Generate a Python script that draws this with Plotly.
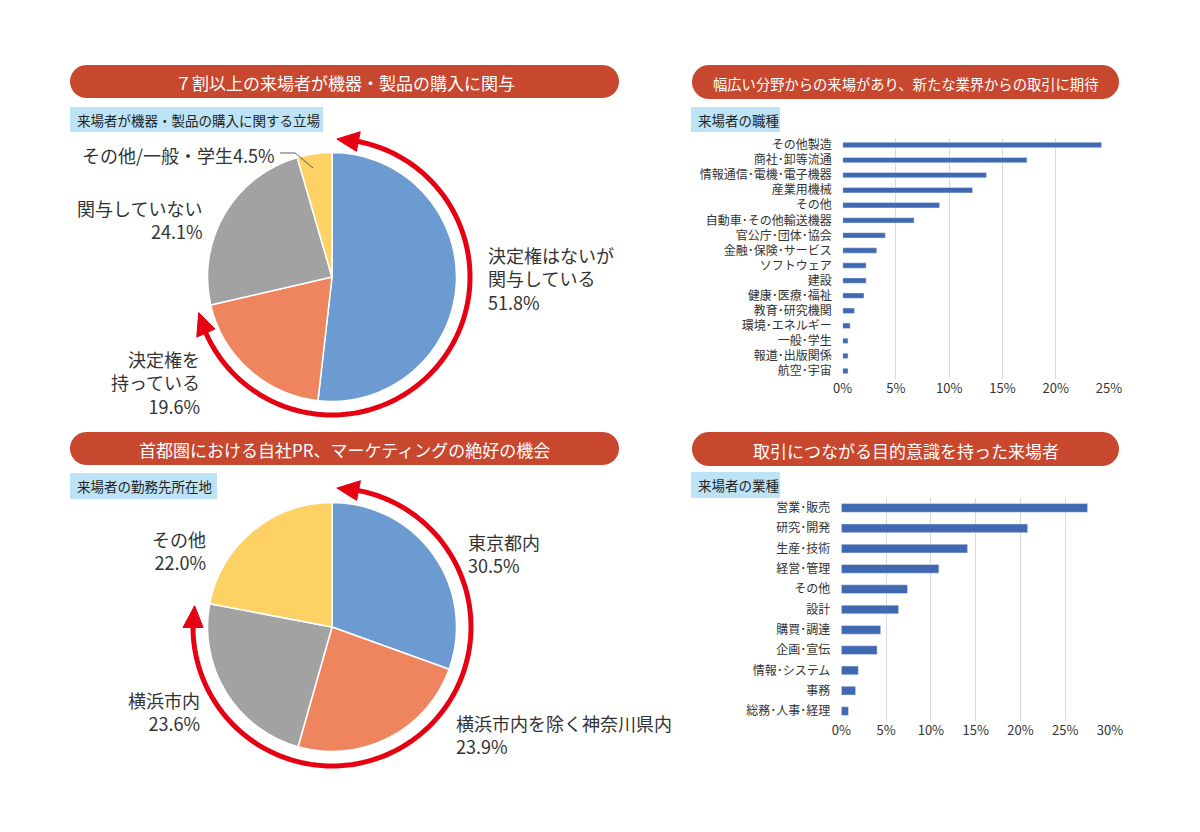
import math
import plotly.graph_objects as go

W, H = 1200, 832
FONT = "Noto Sans CJK JP"
TXT = "#333333"

# ---------------- data ----------------
pie1_labels = ["決定権はないが関与している", "決定権を持っている", "関与していない", "その他/一般・学生"]
pie1_values = [51.8, 19.6, 24.1, 4.5]
pie2_labels = ["東京都内", "横浜市内を除く神奈川県内", "横浜市内", "その他"]
pie2_values = [30.5, 23.9, 23.6, 22.0]
pie_colors = ["#6B9BD1", "#EE855E", "#A2A2A2", "#FDD163"]

job_labels = ["その他製造", "商社･卸等流通", "情報通信･電機･電子機器", "産業用機械", "その他",
              "自動車･その他輸送機器", "官公庁･団体･協会", "金融･保険･サービス", "ソフトウェア",
              "建設", "健康･医療･福祉", "教育･研究機関", "環境･エネルギー", "一般･学生",
              "報道･出版関係", "航空･宇宙"]
job_values = [24.3, 17.3, 13.5, 12.2, 9.1, 6.7, 4.0, 3.2, 2.2, 2.2, 2.0, 1.1, 0.7, 0.5, 0.5, 0.5]

ind_labels = ["営業･販売", "研究･開発", "生産･技術", "経営･管理", "その他", "設計",
              "購買･調達", "企画･宣伝", "情報･システム", "事務", "総務･人事･経理"]
ind_values = [27.5, 20.8, 14.1, 10.9, 7.4, 6.4, 4.4, 4.0, 1.9, 1.6, 0.8]

titles = ["７割以上の来場者が機器・製品の購入に関与",
          "幅広い分野からの来場があり、新たな業界からの取引に期待",
          "首都圏における自社PR、マーケティングの絶好の機会",
          "取引につながる目的意識を持った来場者"]
subtitles = ["来場者が機器・製品の購入に関する立場", "来場者の職種", "来場者の勤務先所在地", "来場者の業種"]


# ---------------- helpers (pixel -> paper) ----------------
def X(px):
    return px / W


def Y(py):
    return 1 - py / H


def path_from(points, close=True):
    s = "M " + " L ".join(f"{X(x):.5f},{Y(y):.5f}" for x, y in points)
    return s + (" Z" if close else "")


def pill_points(x0, y0, x1, y1, n=24):
    r = (y1 - y0) / 2
    cy = (y0 + y1) / 2
    pts = []
    for i in range(n + 1):
        t = math.radians(-90 + 180 * i / n)
        pts.append((x1 - r + r * math.cos(t), cy + r * math.sin(t)))
    for i in range(n + 1):
        t = math.radians(90 + 180 * i / n)
        pts.append((x0 + r + r * math.cos(t), cy + r * math.sin(t)))
    return pts


def polar(cx, cy, r, deg):
    t = math.radians(deg)
    return (cx + r * math.sin(t), cy - r * math.cos(t))


fig = go.Figure()
shapes = []
annotations = []

# ---------------- pies ----------------
pies = [
    dict(labels=pie1_labels, values=pie1_values, cx=332, cy=277, r=124.5, R=138, n_arc=2),
    dict(labels=pie2_labels, values=pie2_values, cx=332, cy=627, r=124.5, R=139, n_arc=3),
]
for p in pies:
    cx, cy, r = p["cx"], p["cy"], p["r"]
    fig.add_trace(go.Pie(
        labels=p["labels"], values=p["values"], sort=False, direction="clockwise", rotation=0,
        marker=dict(colors=pie_colors, line=dict(color="white", width=1.5)),
        textinfo="none", hoverinfo="label+percent", showlegend=False,
        domain=dict(x=[X(cx - r), X(cx + r)], y=[Y(cy + r), Y(cy - r)]),
    ))
    # red double-headed arc spanning the first n_arc slices
    total = sum(p["values"])
    end_deg = 360 * sum(p["values"][:p["n_arc"]]) / total
    R = p["R"]
    tip1, base1 = 2.0, 10.5
    tip2, base2 = end_deg - 2.0, end_deg - 10.5
    arc = [polar(cx, cy, R, base1 + (base2 + 1 - base1) * i / 120) for i in range(121)]
    shapes.append(dict(type="path", xref="paper", yref="paper", path=path_from(arc, close=False),
                       line=dict(color="#E50012", width=5)))
    for tip, base in [(tip1, base1 + 0.5), (tip2, base2 - 0.5)]:
        tri = [polar(cx, cy, R, tip), polar(cx, cy, R + 10, base), polar(cx, cy, R - 10, base)]
        shapes.append(dict(type="path", xref="paper", yref="paper", path=path_from(tri),
                           fillcolor="#E50012", line=dict(color="#E50012", width=1)))


def pie_label(text, x, y, anchor):
    annotations.append(dict(text=text, x=X(x), y=Y(y), xref="paper", yref="paper",
                            xanchor=anchor, yanchor="middle", align=anchor, showarrow=False,
                            font=dict(family=FONT, size=18, color=TXT)))


def fmt(v):
    return f"{v:.1f}%"


pie_label(f"決定権はないが<br>関与している<br>{fmt(pie1_values[0])}", 486, 278, "left")
pie_label(f"決定権を<br>持っている<br>{fmt(pie1_values[1])}", 202, 382, "right")
pie_label(f"関与していない<br>{fmt(pie1_values[2])}", 204, 220, "right")
pie_label(f"その他/一般・学生{fmt(pie1_values[3])}", 277, 155, "right")
shapes.append(dict(type="path", xref="paper", yref="paper",
                   path=path_from([(280, 153), (295, 153), (313, 168)], close=False),
                   line=dict(color="#333333", width=0.8)))

pie_label(f"{pie2_labels[0]}<br>{fmt(pie2_values[0])}", 466, 553, "left")
pie_label(f"{pie2_labels[1]}<br>{fmt(pie2_values[1])}", 454, 734, "left")
pie_label(f"{pie2_labels[2]}<br>{fmt(pie2_values[2])}", 202, 711, "right")
pie_label(f"{pie2_labels[3]}<br>{fmt(pie2_values[3])}", 208, 550, "right")

# ---------------- bars ----------------
BAR = "#4169B1"
fig.add_trace(go.Bar(x=job_values, y=job_labels, orientation="h", marker=dict(color=BAR),
                     xaxis="x", yaxis="y", showlegend=False, width=0.36))
fig.add_trace(go.Bar(x=ind_values, y=ind_labels, orientation="h", marker=dict(color=BAR),
                     xaxis="x2", yaxis="y2", showlegend=False, width=0.43))

ax_common = dict(showgrid=True, gridcolor="#D9D9D9", gridwidth=1, zeroline=False, showline=False,
                 ticks="", ticksuffix="%", dtick=5, tickfont=dict(family=FONT, size=13, color=TXT),
                 fixedrange=True, automargin=False)
ay_common = dict(showgrid=False, zeroline=False, showline=False, ticks="", autorange="reversed",
                 tickfont=dict(family=FONT, size=12, color=TXT), ticklabelstandoff=10, fixedrange=True,
                 automargin=False)

fig.update_layout(
    xaxis=dict(domain=[X(842.7), X(1109)], range=[0, 25], anchor="y", **ax_common),
    yaxis=dict(domain=[Y(378.5), Y(137.5)], anchor="x", **ay_common),
    xaxis2=dict(domain=[X(841.3), X(1110)], range=[0, 30], anchor="y2", **ax_common),
    yaxis2=dict(domain=[Y(721.2), Y(497.8)], anchor="x2", **ay_common),
)

# ---------------- title pills & subtitle boxes ----------------
pills = [(70, 65, 619, 98, 17), (692, 65, 1119, 99, 14.3), (70, 432, 619, 465, 17), (692, 432, 1119, 466, 17)]
for (x0, y0, x1, y1, fs), t in zip(pills, titles):
    shapes.append(dict(type="path", xref="paper", yref="paper", path=path_from(pill_points(x0, y0, x1, y1)),
                       fillcolor="#C8472F", line=dict(width=0), layer="below"))
    annotations.append(dict(text=t, x=X((x0 + x1) / 2), y=Y((y0 + y1) / 2 + 1), xref="paper", yref="paper",
                            xanchor="center", yanchor="middle", showarrow=False,
                            font=dict(family=FONT, size=fs, color="white")))

boxes = [(70, 107, 323, 132), (691, 107, 780, 132), (70, 473, 217, 499), (691, 472, 780, 498)]
for (x0, y0, x1, y1), t in zip(boxes, subtitles):
    shapes.append(dict(type="rect", xref="paper", yref="paper", x0=X(x0), x1=X(x1), y0=Y(y1), y1=Y(y0),
                       fillcolor="#BDE3F6", line=dict(width=0), layer="below"))
    annotations.append(dict(text=t, x=X(x0 + 5), y=Y((y0 + y1) / 2), xref="paper", yref="paper",
                            xanchor="left", yanchor="middle", showarrow=False,
                            font=dict(family=FONT, size=13.5, color="#222222")))

fig.update_layout(
    width=W, height=H, margin=dict(l=0, r=0, t=0, b=0, pad=0, autoexpand=False),
    paper_bgcolor="white", plot_bgcolor="rgba(0,0,0,0)",
    shapes=shapes, annotations=annotations, bargap=0.6,
    font=dict(family=FONT, color=TXT),
)

fig.write_html("out.html", config={"displayModeBar": False},
               post_script="document.body.style.margin='0px';document.body.style.overflow='hidden';")
